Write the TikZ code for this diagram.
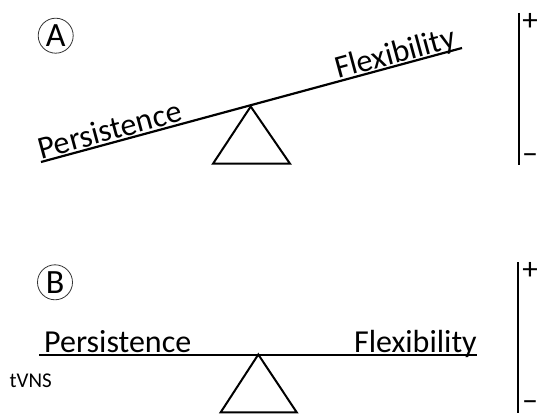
\documentclass[tikz,border=0pt]{standalone}
\usepackage{fontspec}
\setmainfont{Carlito}
\begin{document}
\begin{tikzpicture}[x=1pt,y=-1pt,
  beam/.style={line width=2.2pt},
  fulcrum/.style={line width=2pt, line join=miter},
  scalebar/.style={line width=2pt},
  bigtxt/.style={inner sep=0pt, font=\fontsize{32}{38}\selectfont},
  smalltxt/.style={inner sep=0pt, font=\fontsize{21}{25}\selectfont},
  pm/.style={inner sep=0pt, font=\fontsize{31}{34}\selectfont},
  panel/.style={circle, draw=black!80, line width=0.8pt, minimum size=35pt, inner sep=0pt, font=\fontsize{34}{34}\selectfont}]
\useasboundingbox (0,0) rectangle (538,414);
% ---- Panel A ----
\node[panel] (cA) at (55.7,35.7) {A};
\coordinate (plA) at (41,162);
\coordinate (prA) at (462,48);
\draw[beam] (plA) -- (prA);
\coordinate (apA) at (250.7,106.5);
\coordinate (blA) at (213,163.7);
\coordinate (brA) at (290,163.7);
\draw[fulcrum] (apA) -- (blA) -- (brA) -- cycle;
\node[bigtxt, anchor=base west, rotate=15.15] (persA) at (41.4,159.3) {Persistence};
\node[bigtxt, anchor=base east, rotate=15.15] (flexA) at (457.4,46.7) {Flexibility};
\coordinate (tA) at (519,13);
\coordinate (bA) at (519,165);
\draw[scalebar] (tA) -- (bA);
\node[pm] (plusA) at (530,22) {+};
\node[pm] (minA) at (530,159.5) {−};
% ---- Panel B ----
\node[panel] (cB) at (55,282.3) {B};
\coordinate (plB) at (39,355);
\coordinate (prB) at (477,355);
\draw[beam] (plB) -- (prB);
\coordinate (apB) at (258.3,354.5);
\coordinate (blB) at (220.7,412.3);
\coordinate (brB) at (296.7,412.3);
\draw[fulcrum] (apB) -- (blB) -- (brB) -- cycle;
\node[bigtxt, anchor=base west] (persB) at (44,352.5) {Persistence};
\node[bigtxt, anchor=base east] (flexB) at (477,352.5) {Flexibility};
\node[smalltxt, anchor=base west] (tvns) at (9.5,387.7) {tVNS};
\coordinate (tB) at (518.3,262.3);
\coordinate (bB) at (518.3,413);
\draw[scalebar] (tB) -- (bB);
\node[pm] (plusB) at (530,270.7) {+};
\node[pm] (minB) at (530,406.5) {−};
\end{tikzpicture}
\end{document}
